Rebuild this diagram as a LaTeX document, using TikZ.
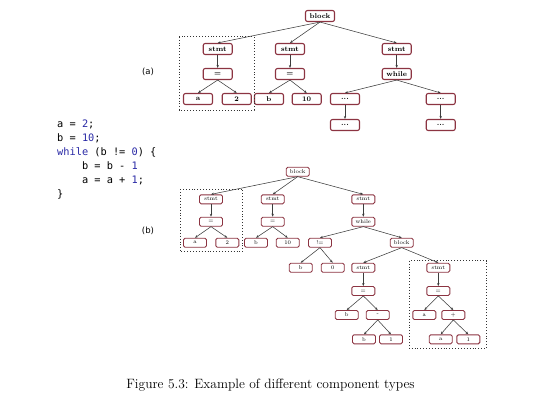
\documentclass[tikz,border=0pt]{standalone}
\usepackage{fontspec}
\newfontfamily\codefont{DejaVu Sans Mono}
\newfontfamily\labfont{DejaVu Sans}
\usepackage{xcolor}
\usepackage{tikz}
\usetikzlibrary{arrows.meta}
\definecolor{boxred}{RGB}{140,52,66}
\definecolor{codeblue}{RGB}{40,40,165}
\definecolor{edgegray}{RGB}{60,60,60}

\begin{document}
\begin{tikzpicture}[x=1pt,y=-1pt,>={Stealth[length=3pt,width=2.4pt]},
      ta/.style={rounded corners=2pt,draw=boxred,line width=1.1pt,fill=white,minimum width=29pt,minimum height=11pt,inner sep=0pt,font=\fontsize{7}{8}\selectfont\bfseries},
      tb/.style={rounded corners=1.5pt,draw=boxred,line width=0.9pt,fill=white,minimum width=23pt,minimum height=9pt,inner sep=0pt,font=\fontsize{5.5}{6}\selectfont},
      edge/.style={->,draw=edgegray,line width=0.55pt},
      dotbox/.style={dotted,line width=0.9pt,draw=black!80}]
    \useasboundingbox (0,0) rectangle (540,410);
    % tree (a)
    \node[ta] (ablock) at (320,16)    {block};
    \node[ta] (astmt1) at (217.7,49)  {stmt};
    \node[ta] (astmt2) at (290,49)    {stmt};
    \node[ta] (astmt3) at (396.7,49)  {stmt};
    \node[ta] (aeq1)   at (217.7,74)  {=};
    \node[ta] (aeq2)   at (290,74)    {=};
    \node[ta] (awhile) at (396.7,74)  {while};
    \node[ta] (aa)     at (198,99)    {a};
    \node[ta] (atwo)   at (236.7,99)  {2};
    \node[ta] (ab)     at (269,99)    {b};
    \node[ta] (aten)   at (306.7,99)  {10};
    \node[ta] (adots1) at (345,99)    {...};
    \node[ta] (adots2) at (440.7,99)  {...};
    \node[ta] (adots3) at (345,125)   {...};
    \node[ta] (adots4) at (440.7,125) {...};
    \foreach \p/\c in {ablock/astmt1,ablock/astmt2,ablock/astmt3,astmt1/aeq1,astmt2/aeq2,astmt3/awhile,
        aeq1/aa,aeq1/atwo,aeq2/ab,aeq2/aten,awhile/adots1,awhile/adots2,adots1/adots3,adots2/adots4}
      \draw[edge] (\p.south) -- (\c.north);
    \draw[dotbox] (179.3,36.7) rectangle (254,110);
    \node[font=\labfont\fontsize{8.5}{10}\selectfont] (alabel) at (148,72) {(a)};
    % source code
    \node[anchor=north west,inner sep=0pt,align=left,font=\codefont\fontsize{10.3}{14}\selectfont] (code) at (57,120)
      {a = \textcolor{codeblue}{2};\\
       b = \textcolor{codeblue}{10};\\
       \textcolor{codeblue}{while} (b != \textcolor{codeblue}{0}) \{\\
       \hphantom{0000}b = b - \textcolor{codeblue}{1}\\
       \hphantom{0000}a = a + \textcolor{codeblue}{1};\\
       \}};
    % tree (b)
    \node[tb] (bblock)  at (297.7,171.7) {block};
    \node[tb] (bstmt1)  at (211,199.3)   {stmt};
    \node[tb] (bstmt2)  at (272.7,199.3) {stmt};
    \node[tb] (bstmt3)  at (363.3,199.3) {stmt};
    \node[tb] (beq1)    at (211,221.7)   {=};
    \node[tb] (beq2)    at (272.7,221.7) {=};
    \node[tb] (bwhile)  at (363.3,221.7) {while};
    \node[tb] (ba)      at (195,242.7)   {a};
    \node[tb] (btwo)    at (227.3,242.7) {2};
    \node[tb] (bb)      at (256,242.7)   {b};
    \node[tb] (bten)    at (287.7,242.7) {10};
    \node[tb] (bneq)    at (320,242.7)   {!=};
    \node[tb] (bblock2) at (401.7,242.7) {block};
    \node[tb] (bb2)     at (300.7,267.7) {b};
    \node[tb] (bzero)   at (332.7,267.7) {0};
    \node[tb] (bstmt4)  at (363.3,267.7) {stmt};
    \node[tb] (bstmt5)  at (438.3,267.7) {stmt};
    \node[tb] (beq3)    at (363.3,291)   {=};
    \node[tb] (beq4)    at (438.3,291)   {=};
    \node[tb] (bb3)     at (346.7,315)   {b};
    \node[tb] (bminus)  at (377.7,315)   {-};
    \node[tb] (ba2)     at (424.3,315)   {a};
    \node[tb] (bplus)   at (453.3,315)   {+};
    \node[tb] (bb4)     at (364,339.3)   {b};
    \node[tb] (bone)    at (391,339.3)   {1};
    \node[tb] (ba3)     at (440.7,339.3) {a};
    \node[tb] (bone2)   at (468.3,339.3) {1};
    \foreach \p/\c in {bblock/bstmt1,bblock/bstmt2,bblock/bstmt3,bstmt1/beq1,bstmt2/beq2,bstmt3/bwhile,
        beq1/ba,beq1/btwo,beq2/bb,beq2/bten,bwhile/bneq,bwhile/bblock2,bneq/bb2,bneq/bzero,
        bblock2/bstmt4,bblock2/bstmt5,bstmt4/beq3,bstmt5/beq4,beq3/bb3,beq3/bminus,beq4/ba2,beq4/bplus,
        bminus/bb4,bminus/bone,bplus/ba3,bplus/bone2}
      \draw[edge] (\p.south) -- (\c.north);
    \draw[dotbox] (180,189.3) rectangle (242.7,251.7);
    \draw[dotbox] (409.3,260.7) rectangle (486.7,348.3);
    \node[font=\labfont\fontsize{8.5}{10}\selectfont] (blabel) at (148,231) {(b)};
    % caption
    \node[font=\fontsize{13.5}{15}\selectfont] (caption) at (270.5,385) {Figure 5.3: Example of different component types};
\end{tikzpicture}
\end{document}
